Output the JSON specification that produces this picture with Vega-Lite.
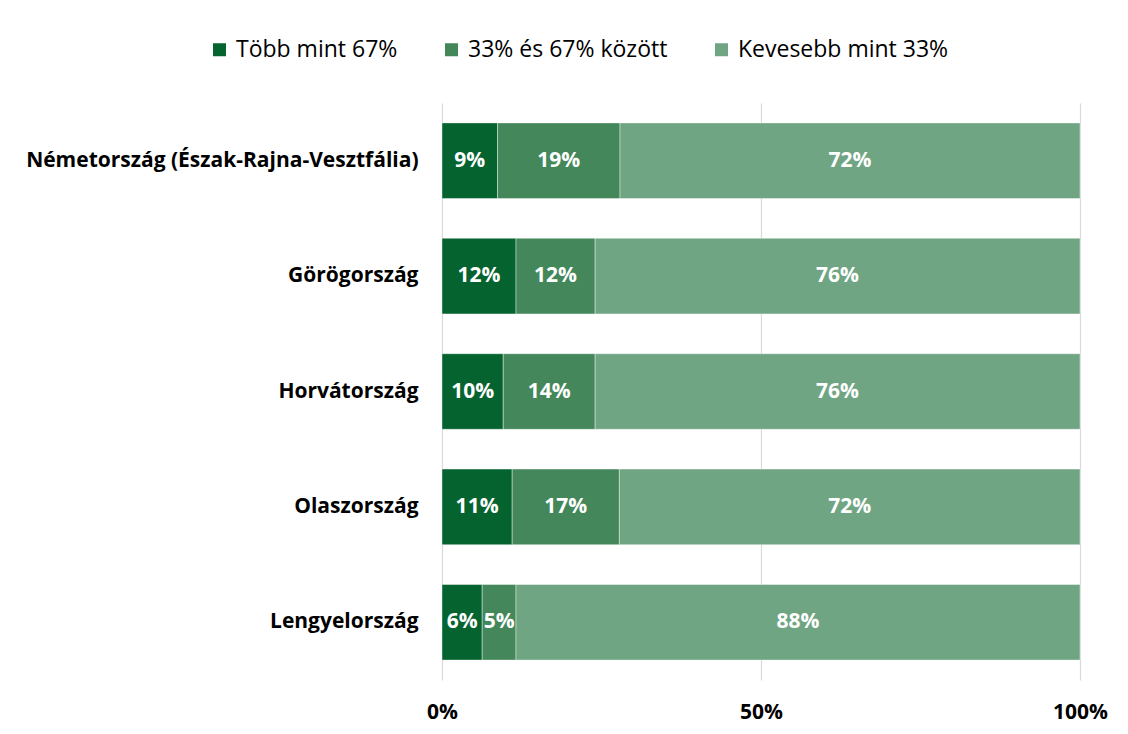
{
  "$schema": "https://vega.github.io/schema/vega-lite/v6.json",
  "autosize": {"type": "none"},
  "width": 638,
  "height": 577,
  "padding": {"left": 442, "top": 103, "right": 48, "bottom": 54},
  "background": "white",
  "data": {
    "values": [
      {"country": "Németország (Észak-Rajna-Vesztfália)", "cat": "Több mint 67%", "k": 1, "share": 0.087},
      {"country": "Németország (Észak-Rajna-Vesztfália)", "cat": "33% és 67% között", "k": 2, "share": 0.192},
      {"country": "Németország (Észak-Rajna-Vesztfália)", "cat": "Kevesebb mint 33%", "k": 3, "share": 0.721},
      {"country": "Görögország", "cat": "Több mint 67%", "k": 1, "share": 0.116},
      {"country": "Görögország", "cat": "33% és 67% között", "k": 2, "share": 0.124},
      {"country": "Görögország", "cat": "Kevesebb mint 33%", "k": 3, "share": 0.760},
      {"country": "Horvátország", "cat": "Több mint 67%", "k": 1, "share": 0.096},
      {"country": "Horvátország", "cat": "33% és 67% között", "k": 2, "share": 0.144},
      {"country": "Horvátország", "cat": "Kevesebb mint 33%", "k": 3, "share": 0.760},
      {"country": "Olaszország", "cat": "Több mint 67%", "k": 1, "share": 0.110},
      {"country": "Olaszország", "cat": "33% és 67% között", "k": 2, "share": 0.168},
      {"country": "Olaszország", "cat": "Kevesebb mint 33%", "k": 3, "share": 0.722},
      {"country": "Lengyelország", "cat": "Több mint 67%", "k": 1, "share": 0.063},
      {"country": "Lengyelország", "cat": "33% és 67% között", "k": 2, "share": 0.053},
      {"country": "Lengyelország", "cat": "Kevesebb mint 33%", "k": 3, "share": 0.884}
    ]
  },
  "encoding": {
    "y": {
      "field": "country",
      "type": "nominal",
      "sort": ["Németország (Észak-Rajna-Vesztfália)", "Görögország", "Horvátország", "Olaszország", "Lengyelország"],
      "scale": {"paddingInner": 0.345, "paddingOuter": 0.1725},
      "axis": {
        "title": null,
        "domain": false,
        "ticks": false,
        "grid": false,
        "labelFont": "Open Sans",
        "labelFontSize": 21,
        "labelFontWeight": "bold",
        "labelColor": "#000000",
        "labelPadding": 24,
        "labelLimit": 500
      }
    }
  },
  "layer": [
    {
      "mark": {"type": "bar", "stroke": "#ffffff", "strokeWidth": 0.8, "strokeOpacity": 0.5},
      "encoding": {
        "x": {
          "field": "share",
          "type": "quantitative",
          "stack": "zero",
          "scale": {"domain": [0, 1], "nice": false, "zero": true},
          "axis": {
            "title": null,
            "values": [0, 0.5, 1],
            "format": ".0%",
            "domain": false,
            "ticks": false,
            "grid": true,
            "gridColor": "#d9d9d9",
            "gridWidth": 1.2,
            "labelFlush": false,
            "labelFont": "Open Sans",
            "labelFontSize": 21,
            "labelFontWeight": "bold",
            "labelColor": "#000000",
            "labelPadding": 21
          }
        },
        "color": {
          "field": "cat",
          "type": "nominal",
          "sort": ["Több mint 67%", "33% és 67% között", "Kevesebb mint 33%"],
          "scale": {
            "domain": ["Több mint 67%", "33% és 67% között", "Kevesebb mint 33%"],
            "range": ["#05632f", "#43875a", "#70a583"]
          },
          "legend": {
            "title": null,
            "orient": "none",
            "direction": "horizontal",
            "legendX": -234,
            "legendY": -65,
            "symbolType": "square",
            "symbolSize": 169,
            "symbolStrokeWidth": 0,
            "symbolOpacity": 1,
            "labelFont": "Open Sans",
            "labelFontSize": 23,
            "labelColor": "#000000",
            "labelOffset": 5,
            "columnPadding": 42,
            "labelLimit": 400
          }
        },
        "order": {"field": "k", "type": "quantitative"}
      }
    },
    {
      "mark": {"type": "text", "color": "#ffffff", "font": "Open Sans", "fontSize": 21, "fontWeight": "bold", "align": "center", "baseline": "middle"},
      "encoding": {
        "x": {"field": "share", "type": "quantitative", "stack": "zero", "bandPosition": 0.5},
        "detail": {"field": "cat", "type": "nominal"},
        "order": {"field": "k", "type": "quantitative"},
        "text": {"field": "share", "type": "quantitative", "format": ".0%"}
      }
    }
  ],
  "config": {"view": {"stroke": null}}
}
